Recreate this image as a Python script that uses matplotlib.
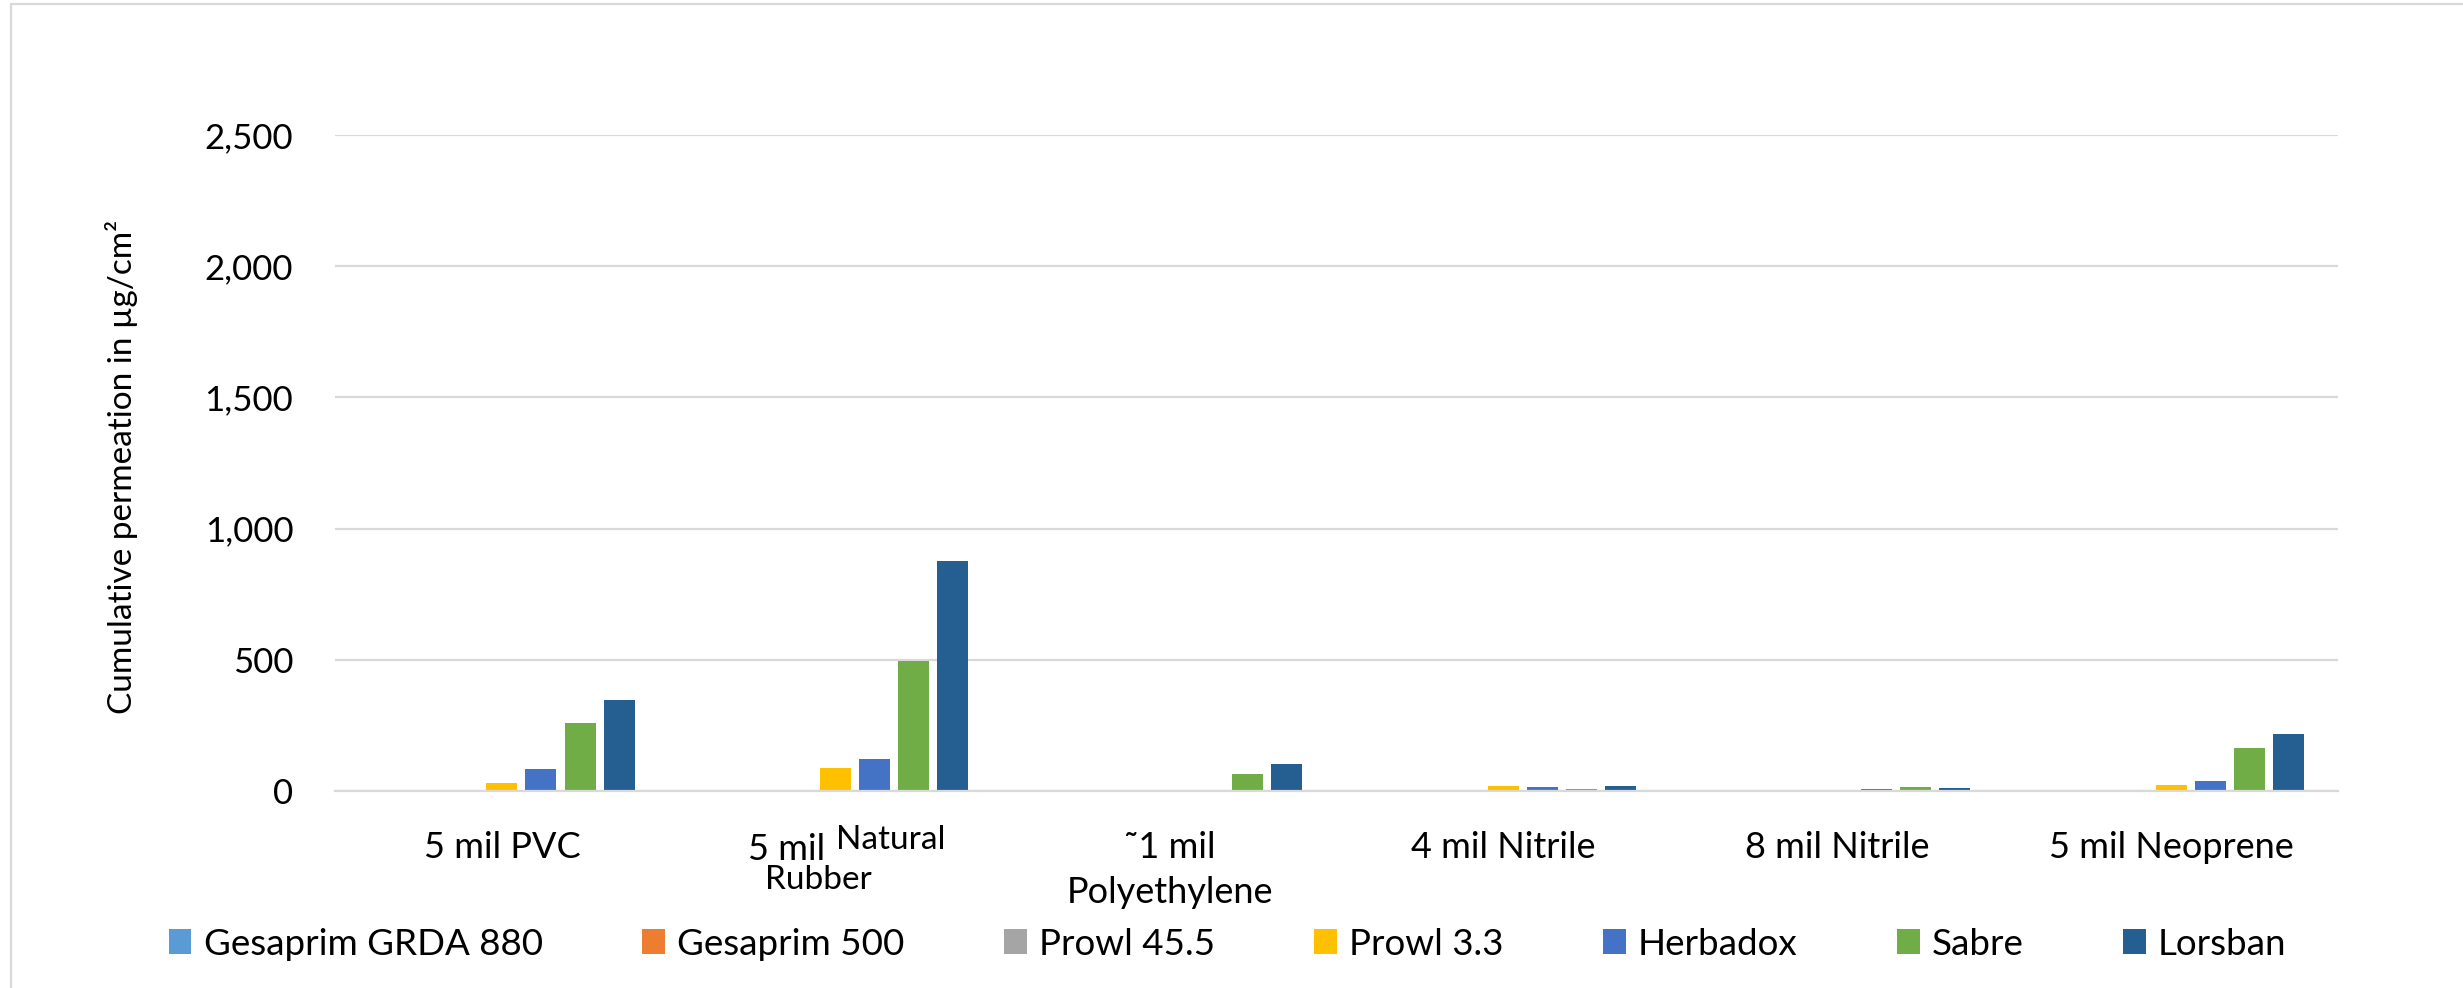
import numpy as np
import matplotlib
matplotlib.use("Agg")
import matplotlib.pyplot as plt
from matplotlib.patches import Rectangle
from matplotlib.transforms import offset_copy

plt.rcParams['font.family'] = ['Lato', 'DejaVu Sans']

categories = ["5 mil PVC", "5 mil Natural Rubber", "\u02dc1 mil\nPolyethylene",
              "4 mil Nitrile", "8 mil Nitrile", "5 mil Neoprene"]
series = ["Gesaprim GRDA 880", "Gesaprim 500", "Prowl 45.5", "Prowl 3.3",
          "Herbadox", "Sabre", "Lorsban"]
gesaprim_grda = [3, 0, 0, 0, 0, 0]
gesaprim_500 = [2, 0, 0, 0, 0, 0]
prowl_455 = [2, 0, 0, 0, 1, 0]
prowl_33 = [31, 88, 0, 18, 0, 23]
herbadox = [84, 122, 0, 14, 7, 38]
sabre = [259, 494, 65, 8, 17, 165]
lorsban = [348, 877, 104, 19, 12, 216]
values = [gesaprim_grda, gesaprim_500, prowl_455, prowl_33, herbadox, sabre, lorsban]
colors = ["#5B9BD5", "#ED7D31", "#A5A5A5", "#FFC000", "#4472C4", "#70AD47", "#255E91"]
yticks = [0, 500, 1000, 1500, 2000, 2500]

W, H = 2463, 988
fig = plt.figure(figsize=(W / 100, H / 100), dpi=100)
ax = fig.add_axes([335 / W, 1 - 791 / H, (2338 - 335) / W, (791 - 135) / H])

x = np.arange(len(categories))
step, wd = 0.117, 0.093
handles = []
for i, (name, vals, c) in enumerate(zip(series, values, colors)):
    b = ax.bar(x + (i - 3) * step, vals, wd, color=c, label=name, zorder=3)
    handles.append(b)

ax.set_xlim(-0.5, len(categories) - 0.5)
ax.set_ylim(0, 2500)
ax.set_yticks(yticks)
ax.set_yticklabels([f"{v:,}" for v in yticks])
ax.grid(True, axis="y", color="#D9D9D9", linewidth=1.6, zorder=0)
for s in ["top", "right", "left"]:
    ax.spines[s].set_visible(False)
ax.spines["bottom"].set_color("#D9D9D9")
ax.spines["bottom"].set_linewidth(1.6)
ax.spines["bottom"].set_zorder(4)
ax.tick_params(axis="both", length=0)
ax.tick_params(axis="y", labelsize=25, pad=30)
ax.tick_params(axis="x", labelsize=26, pad=29)
ax.set_xticks(x)
labels = list(categories)
labels[1] = ""
ax.set_xticklabels(labels, linespacing=1.45)

# odd wrapping of the "Natural Rubber" label, as in the original
tr = ax.get_xaxis_transform()
ax.text(1, 0, "5 mil", transform=offset_copy(tr, fig=fig, x=-11 * 0.72, y=-42 * 0.72, units="points"),
        ha="right", va="top", fontsize=26)
ax.text(1, 0, "Natural", transform=offset_copy(tr, fig=fig, x=0, y=-34 * 0.72, units="points"),
        ha="left", va="top", fontsize=24)
ax.text(1, 0, "Rubber", transform=offset_copy(tr, fig=fig, x=-17 * 0.72, y=-74 * 0.72, units="points"),
        ha="center", va="top", fontsize=24)

fig.text(122 / W, 1 - 467 / H, "Cumulative permeation in \u00b5g/cm\u00b2", rotation=90,
         ha="center", va="center", fontsize=24)

fig.legend(handles=handles, loc="center", bbox_to_anchor=(0.4984, 1 - 944 / H), ncol=7,
           frameon=False, fontsize=26.5, handlelength=0.62, handleheight=0.68,
           handletextpad=0.33, columnspacing=2.7)

# light chart-area border (top and left edges)
fig.patches.append(Rectangle((11 / W, -0.1), 1.2, 1.1 - 4 / H, transform=fig.transFigure,
                             fill=False, edgecolor="#D9D9D9", linewidth=1.6, zorder=0))

fig.savefig("out.png", dpi=100)
